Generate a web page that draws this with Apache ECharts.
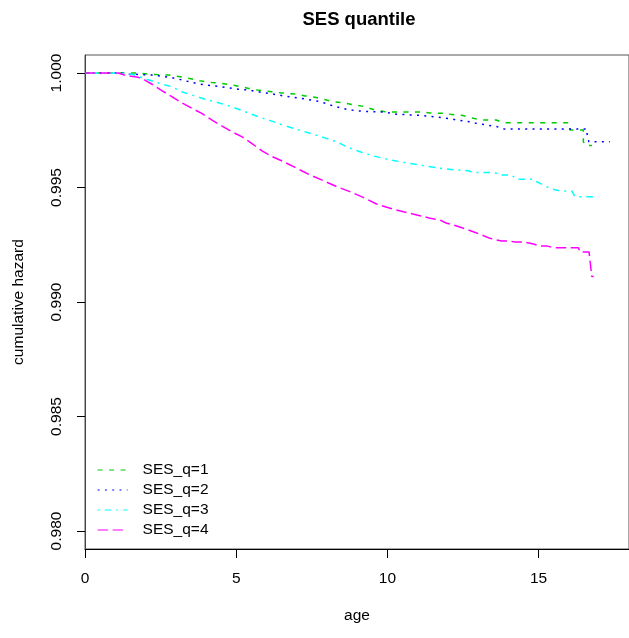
<!DOCTYPE html>
<html>
<head>
<meta charset="utf-8">
<script src="https://cdn.jsdelivr.net/npm/echarts@6/dist/echarts.min.js"></script>
<style>
  html, body { margin: 0; padding: 0; background: #fff; }
  #chart { width: 629px; height: 638px; }
</style>
</head>
<body>
<div id="chart"></div>
<script>
// Cumulative hazard curves by SES quantile (vertices of each curve: age, value)
const seriesNames = ['SES_q=1', 'SES_q=2', 'SES_q=3', 'SES_q=4'];

const ageQ1 = [0, 1.65, 2.37, 2.76, 3.14, 3.42, 3.8, 4.19, 4.52, 4.85, 5.18, 5.51, 5.84, 6.17, 6.5, 6.95, 7.28, 7.61, 8.21, 8.6, 8.93, 9.26, 9.59, 9.98, 11.2, 11.4, 11.9, 12.07, 12.5, 12.84, 13.17, 13.6, 13.83, 16.0, 16.04, 16.48, 16.48, 16.55, 16.77];
const hazQ1 = [1, 1, 0.99993, 0.99991, 0.99984, 0.99977, 0.99966, 0.99959, 0.99955, 0.99948, 0.9994, 0.99929, 0.99923, 0.99918, 0.99913, 0.99908, 0.999, 0.99894, 0.99875, 0.99868, 0.9986, 0.99853, 0.99838, 0.9983, 0.9983, 0.99825, 0.99824, 0.9982, 0.99814, 0.99802, 0.99795, 0.99795, 0.99783, 0.99783, 0.99751, 0.99751, 0.997, 0.99683, 0.99683];

const ageQ2 = [0, 1.2, 1.43, 2.2, 2.65, 2.98, 3.31, 3.75, 4.19, 4.63, 5.07, 5.4, 5.73, 6.17, 6.56, 6.9, 7.34, 7.78, 8.21, 8.65, 8.98, 9.42, 9.86, 10.3, 10.75, 11.19, 11.63, 12.07, 12.4, 12.73, 12.95, 13.28, 13.61, 13.88, 16.6, 16.6, 16.66, 16.66, 17.36];
const hazQ2 = [1, 1, 0.99996, 0.99991, 0.99984, 0.99977, 0.99966, 0.99952, 0.99945, 0.99938, 0.99929, 0.99926, 0.99918, 0.99909, 0.999, 0.99894, 0.99885, 0.99875, 0.99856, 0.99841, 0.99835, 0.99831, 0.9983, 0.9982, 0.99817, 0.99814, 0.99808, 0.998, 0.99793, 0.99787, 0.9978, 0.99773, 0.99766, 0.99755, 0.99755, 0.99737, 0.99737, 0.997, 0.997];

const ageQ3 = [0, 1.4, 1.65, 1.93, 2.2, 2.54, 2.87, 3.2, 3.53, 3.97, 4.41, 4.85, 5.29, 5.73, 6.17, 6.56, 7.0, 7.44, 7.88, 8.32, 8.65, 9.09, 9.53, 9.97, 10.53, 11.08, 11.63, 12.18, 12.68, 12.84, 13.55, 13.72, 14.1, 14.27, 14.82, 14.94, 15.16, 15.38, 15.71, 16.1, 16.2, 16.92];
const hazQ3 = [1, 0.99998, 0.99991, 0.99977, 0.99966, 0.99952, 0.9994, 0.99918, 0.99904, 0.99885, 0.9987, 0.99853, 0.99831, 0.99809, 0.9979, 0.99772, 0.99754, 0.99737, 0.99719, 0.997, 0.99678, 0.99656, 0.99638, 0.99624, 0.9961, 0.99598, 0.99586, 0.99578, 0.99573, 0.99565, 0.99565, 0.99555, 0.99555, 0.99536, 0.99536, 0.99525, 0.99511, 0.99496, 0.99485, 0.99485, 0.9946, 0.9946];

const ageQ4 = [0, 1.1, 1.3, 1.76, 1.98, 2.2, 2.54, 2.87, 3.2, 3.53, 3.86, 4.19, 4.52, 4.85, 5.18, 5.51, 5.84, 6.17, 6.56, 7.0, 7.44, 7.88, 8.32, 8.76, 9.2, 9.64, 10.09, 10.53, 10.97, 11.41, 11.74, 11.96, 12.29, 12.62, 12.84, 13.12, 13.39, 13.78, 14.05, 14.22, 14.5, 14.83, 15.05, 15.27, 15.49, 16.32, 16.37, 16.67, 16.7, 16.76, 16.76, 16.82];
const hazQ4 = [1, 1, 0.99991, 0.99981, 0.99969, 0.99952, 0.99923, 0.99897, 0.9987, 0.99846, 0.99824, 0.99795, 0.99769, 0.99744, 0.99722, 0.99693, 0.99661, 0.99636, 0.99613, 0.99584, 0.99555, 0.9953, 0.99504, 0.99482, 0.99457, 0.99428, 0.99409, 0.99394, 0.9938, 0.99366, 0.99358, 0.99344, 0.99332, 0.99317, 0.99307, 0.99293, 0.99278, 0.99266, 0.99266, 0.99262, 0.99262, 0.99253, 0.99245, 0.99245, 0.99237, 0.99237, 0.99218, 0.99218, 0.9918, 0.9918, 0.99111, 0.99111];

const xTicks = [0, 5, 10, 15];
const yTicks = [0.980, 0.985, 0.990, 0.995, 1.000];

const ages = [ageQ1, ageQ2, ageQ3, ageQ4];
const hazards = [hazQ1, hazQ2, hazQ3, hazQ4];
const colors = ['#00CD00', '#0000FF', '#00FFFF', '#FF00FF'];
const dashes = [[5, 6.5], [2, 5.3], [2, 5, 6.5, 5], [10.5, 4.5]];

const FONT = '"Liberation Sans", Arial, sans-serif';

const chart = echarts.init(document.getElementById('chart'), null, { renderer: 'canvas' });

const series = seriesNames.map((name, i) => ({
  name: name,
  type: 'line',
  showSymbol: false,
  symbol: 'none',
  color: colors[i],
  lineStyle: { color: colors[i], width: 1.5, type: dashes[i] },
  data: ages[i].map((a, k) => [a, hazards[i][k]]),
  z: 3
}));

// legend entries: dashed sample line in the series colour, no marker
const legendData = seriesNames.map((name, i) => ({
  name: name,
  itemStyle: { color: 'transparent', borderWidth: 0, opacity: 0 },
  lineStyle: { color: colors[i], width: 1.2, type: dashes[i], opacity: 1 }
}));

chart.setOption({
  animation: false,
  backgroundColor: '#fff',
  textStyle: { fontFamily: FONT },
  title: {
    text: 'SES quantile',
    left: 359,
    top: 10,
    textAlign: 'center',
    padding: 0,
    textStyle: { fontFamily: FONT, fontSize: 18.5, fontWeight: 'bold', color: '#000' }
  },
  legend: {
    orient: 'vertical',
    left: 97,
    top: 462,
    itemWidth: 30,
    itemHeight: 14,
    itemGap: 4,
    padding: 0,
    selectedMode: false,
    data: legendData,
    textStyle: { fontFamily: FONT, fontSize: 15.5, color: '#000', padding: [0, 0, 0, 10] }
  },
  grid: {
    left: 85, right: 0, top: 55, bottom: 89,
    show: true, borderColor: '#555', borderWidth: 1, backgroundColor: 'transparent'
  },
  xAxis: {
    type: 'value',
    min: 0,
    max: 17.99,
    name: 'age',
    nameLocation: 'middle',
    nameGap: 59,
    nameTextStyle: { fontFamily: FONT, fontSize: 15.5, color: '#000' },
    splitLine: { show: false },
    axisLine: { show: true, lineStyle: { color: '#000', width: 1 } },
    axisTick: { show: true, length: 9, customValues: xTicks, lineStyle: { color: '#000' } },
    axisLabel: { customValues: xTicks, margin: 22, fontFamily: FONT, fontSize: 15.5, color: '#000' }
  },
  yAxis: {
    type: 'value',
    min: 0.979214,
    max: 1.000786,
    name: 'cumulative hazard',
    nameLocation: 'middle',
    nameGap: 58,
    nameTextStyle: { fontFamily: FONT, fontSize: 15.5, color: '#000' },
    splitLine: { show: false },
    axisLine: { show: true, lineStyle: { color: '#444', width: 1 } },
    axisTick: { show: true, length: 8, customValues: yTicks, lineStyle: { color: '#000' } },
    axisLabel: {
      customValues: yTicks,
      rotate: 90,
      margin: 20,
      fontFamily: FONT, fontSize: 15.5, color: '#000',
      formatter: v => Number(v).toFixed(3)
    }
  },
  series: series
});
</script>
</body>
</html>
